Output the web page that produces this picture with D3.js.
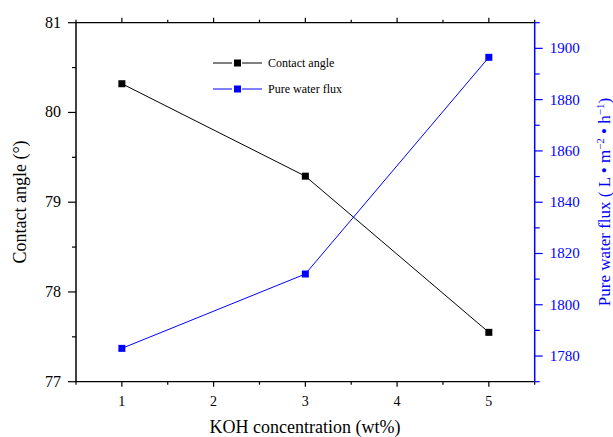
<!DOCTYPE html>
<html lang="en">
<head>
  <meta charset="UTF-8">
  <title>Contact angle and pure water flux</title>
  <script src="https://d3js.org/d3.v7.min.js"></script>
  <style>
    body { margin: 0; background: #fff; }
  </style>
</head>
<body>
<svg id="chart" width="613" height="437" font-family="'Liberation Serif', Tinos, 'Times New Roman', 'DejaVu Serif', serif"></svg>
<script>
  // data
  const koh = [1, 3, 5];
  const contactAngle = [80.32, 79.29, 77.55];
  const waterFlux = [1783, 1812, 1896.5];
  const xTicks = [1, 2, 3, 4, 5];
  const leftTicks = [77, 78, 79, 80, 81];
  const rightTicks = [1780, 1800, 1820, 1840, 1860, 1880, 1900];
  const legendNames = ["Contact angle", "Pure water flux"];
  const colors = ["#000", "#0000ff"];

  const svg = d3.select("#chart");
  const margin = {top: 22.7, right: 78.3, bottom: 55.3, left: 76};
  const width = 613 - margin.left - margin.right;
  const height = 437 - margin.top - margin.bottom;
  const g = svg.append("g").attr("transform", "translate(" + margin.left + "," + margin.top + ")");

  const x = d3.scaleLinear().domain([0.5, 5.5]).range([0, width]);
  const yL = d3.scaleLinear().domain([77, 81]).range([height, 0]);
  const yR = d3.scaleLinear().domain([1770, 1910]).range([height, 0]);

  const halfSteps = d3.range(0.5, 5.51, 0.5);
  const leftMinor = d3.range(77, 81.01, 0.5);
  const rightMinor = d3.range(1770, 1910.1, 10);

  // bottom axis
  const bottomAxis = g.append("g").attr("transform", "translate(0," + height + ")");
  bottomAxis.selectAll("line.t").data(halfSteps).join("line")
    .attr("x1", d => x(d)).attr("x2", d => x(d))
    .attr("y1", 0).attr("y2", d => Number.isInteger(d) ? 5 : 3)
    .attr("stroke", "#000").attr("stroke-width", 1.2);
  bottomAxis.selectAll("text").data(xTicks).join("text")
    .attr("x", d => x(d)).attr("y", 24)
    .attr("text-anchor", "middle").attr("font-size", 14).text(d => d);

  // top axis
  const topAxis = g.append("g");
  topAxis.selectAll("line.t").data(halfSteps).join("line")
    .attr("x1", d => x(d)).attr("x2", d => x(d))
    .attr("y1", 0).attr("y2", d => Number.isInteger(d) ? -5 : -3)
    .attr("stroke", "#000").attr("stroke-width", 1.2);
  g.append("line").attr("x1", 0).attr("x2", width).attr("y1", 0).attr("y2", 0)
    .attr("stroke", "#000").attr("stroke-width", 1.3);
  g.append("line").attr("x1", 0).attr("x2", width).attr("y1", height).attr("y2", height)
    .attr("stroke", "#000").attr("stroke-width", 1.3);

  // left axis
  const leftAxis = g.append("g");
  leftAxis.selectAll("line").data(leftMinor).join("line")
    .attr("x1", 0).attr("x2", d => Number.isInteger(d) ? -8 : -4)
    .attr("y1", d => yL(d)).attr("y2", d => yL(d))
    .attr("stroke", "#000").attr("stroke-width", 1.2);
  leftAxis.append("line").attr("x1", 0).attr("x2", 0).attr("y1", 0).attr("y2", height)
    .attr("stroke", "#000").attr("stroke-width", 1.5);
  leftAxis.selectAll("text").data(leftTicks).join("text")
    .attr("x", -15).attr("y", d => yL(d) + 5)
    .attr("text-anchor", "end").attr("font-size", 16).text(d => d);

  // right axis
  const rightAxis = g.append("g").attr("transform", "translate(" + width + ",0)");
  rightAxis.selectAll("line").data(rightMinor).join("line")
    .attr("x1", 0).attr("x2", d => d % 20 === 0 ? 8 : 5)
    .attr("y1", d => yR(d)).attr("y2", d => yR(d))
    .attr("stroke", colors[1]).attr("stroke-width", 1.2);
  rightAxis.append("line").attr("x1", 0).attr("x2", 0).attr("y1", 0).attr("y2", height)
    .attr("stroke", colors[1]).attr("stroke-width", 1.5);
  rightAxis.selectAll("text").data(rightTicks).join("text")
    .attr("x", 15).attr("y", d => yR(d) + 5)
    .attr("fill", colors[1]).attr("font-size", 15).text(d => d);

  // series
  const series = [
    {values: contactAngle, y: yL, color: colors[0]},
    {values: waterFlux, y: yR, color: colors[1]}
  ];
  series.forEach(s => {
    const pts = koh.map((k, i) => [k, s.values[i]]);
    g.append("path").datum(pts)
      .attr("fill", "none").attr("stroke", s.color).attr("stroke-width", 1)
      .attr("d", d3.line().x(d => x(d[0])).y(d => s.y(d[1])));
    g.selectAll(null).data(pts).join("rect")
      .attr("x", d => x(d[0]) - 3.5).attr("y", d => s.y(d[1]) - 3.5)
      .attr("width", 7).attr("height", 7).attr("fill", s.color);
  });

  // legend
  const legend = svg.append("g").attr("transform", "translate(213,63)");
  legendNames.forEach((name, i) => {
    const row = legend.append("g").attr("transform", "translate(0," + (i * 26) + ")");
    row.append("line").attr("x1", 0).attr("x2", 19).attr("y1", 0).attr("y2", 0).attr("stroke", colors[i]);
    row.append("line").attr("x1", 29).attr("x2", 49).attr("y1", 0).attr("y2", 0).attr("stroke", colors[i]);
    row.append("rect").attr("x", 21).attr("y", -3.5).attr("width", 7).attr("height", 7).attr("fill", colors[i]);
    row.append("text").attr("x", 55).attr("y", 4).attr("font-size", 12).text(name);
  });

  // axis titles
  svg.append("text").attr("x", 305).attr("y", 433).attr("text-anchor", "middle")
    .attr("font-size", 18).text("KOH concentration (wt%)");
  svg.append("text").attr("transform", "translate(26,202) rotate(-90)")
    .attr("text-anchor", "middle").attr("font-size", 18).text("Contact angle (°)");

  const rt = svg.append("text").attr("transform", "translate(610,202) rotate(-90)")
    .attr("text-anchor", "middle").attr("font-size", 17).attr("fill", colors[1]);
  rt.append("tspan").text("Pure water flux ( L • m");
  rt.append("tspan").attr("dy", -6).attr("font-size", 11).text("−2");
  rt.append("tspan").attr("dy", 6).text(" • h");
  rt.append("tspan").attr("dy", -6).attr("font-size", 11).text("−1");
  rt.append("tspan").attr("dy", 6).text(")");
</script>
</body>
</html>
